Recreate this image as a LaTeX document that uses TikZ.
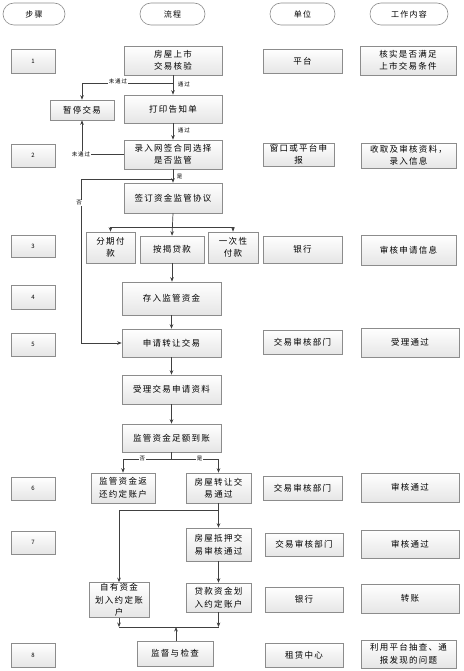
\documentclass[tikz,border=0pt]{standalone}
\usepackage{fontspec}
\setmainfont{Noto Sans CJK SC}[LetterSpace=15]
\usetikzlibrary{arrows.meta,shadows}
\begin{document}
\begin{tikzpicture}[x=1pt,y=-1pt,
  box/.style={draw=black!45, line width=0.6pt, top color=white, bottom color=black!10,
    drop shadow={shadow xshift=1pt,shadow yshift=-1pt,opacity=0.25},
    align=center, font=\fontsize{8.5}{12.5}\selectfont, inner sep=1pt},
  stepbox/.style={box, font=\fontsize{6}{7}\selectfont, minimum width=44pt},
  head/.style={draw=black!45, line width=0.6pt, rounded corners=11pt, fill=white,
    font=\fontsize{8}{10}\selectfont, minimum height=22pt},
  lab/.style={fill=white, inner sep=0.6pt, font=\fontsize{5.5}{6}\selectfont},
  conn/.style={draw=black!75, line width=0.7pt},
  arr/.style={conn, -{Stealth[length=4.5pt,width=3.6pt]}},
]
\useasboundingbox (0,0) rectangle (463,671);

% headers
\node[head, minimum width=62pt] (h1) at (34,14) {步骤};
\node[head, minimum width=65pt] (h2) at (172.5,14) {流程};
\node[head, minimum width=65pt] (h3) at (302.5,14) {单位};
\node[head, minimum width=78pt] (h4) at (409,14) {工作内容};

% steps
\node[stepbox, minimum height=24pt] (s1) at (33,61) {1};
\node[stepbox, minimum height=23pt] (s2) at (33,155.5) {2};
\node[stepbox, minimum height=22pt] (s3) at (33,246) {3};
\node[stepbox, minimum height=24pt] (s4) at (33,297) {4};
\node[stepbox, minimum height=23pt] (s5) at (33,344.5) {5};
\node[stepbox, minimum height=23pt] (s6) at (33,488.5) {6};
\node[stepbox, minimum height=23pt] (s7) at (33,542.5) {7};
\node[stepbox, minimum height=24pt] (s8) at (33,655) {8};

% process column
\node[box, minimum width=98pt, minimum height=29pt] (p1) at (173,60.5) {房屋上市\\交易核验};
\node[box, minimum width=98pt, minimum height=28pt] (p2) at (173,109) {打印告知单};
\node[box, minimum width=64pt, minimum height=20pt] (stop) at (82,110) {暂停交易};
\node[box, minimum width=98pt, minimum height=29pt] (p3) at (173,154.5) {录入网签合同选择\\是否监管};
\node[box, minimum width=98pt, minimum height=30pt] (p4) at (173,198) {签订资金监管协议};
\node[box, minimum width=49pt, minimum height=31pt] (pa) at (110.5,247.5) {分期付\\款};
\node[box, minimum width=64pt, minimum height=27pt] (pb) at (172,249.5) {按揭贷款};
\node[box, minimum width=50pt, minimum height=31pt] (pc) at (233,247.5) {一次性\\付款};
\node[box, minimum width=99pt, minimum height=33pt] (p5) at (171.5,298.5) {存入监管资金};
\node[box, minimum width=99pt, minimum height=28pt] (p6) at (171.5,343) {申请转让交易};
\node[box, minimum width=99pt, minimum height=29pt] (p7) at (171.5,389.5) {受理交易申请资料};
\node[box, minimum width=99pt, minimum height=28pt] (p8) at (171.5,438) {监管资金足额到账};
\node[box, minimum width=64pt, minimum height=30pt] (p9) at (123,488) {监管资金返\\还约定账户};
\node[box, minimum width=65pt, minimum height=30pt] (p10) at (218.5,488) {房屋转让交\\易通过};
\node[box, minimum width=65pt, minimum height=33pt] (p11) at (218.5,544.5) {房屋抵押交\\易审核通过};
\node[box, minimum width=60pt, minimum height=34pt] (p12) at (119,600) {自有资金\\划入约定账\\户};
\node[box, minimum width=65pt, minimum height=29pt] (p13) at (218.5,597.5) {贷款资金划\\入约定账户};
\node[box, minimum width=76pt, minimum height=25pt] (p14) at (175,653.5) {监督与检查};

% unit column
\node[box, minimum width=79pt, minimum height=24pt] (u1) at (302.5,61) {平台};
\node[box, minimum width=71pt, minimum height=23pt] (u2) at (298.5,154.5) {窗口或平台申\\报};
\node[box, minimum width=79pt, minimum height=27pt] (u3) at (302.5,249.5) {银行};
\node[box, minimum width=79pt, minimum height=24pt] (u5) at (302.5,342) {交易审核部门};
\node[box, minimum width=79pt, minimum height=24pt] (u6) at (302.5,488) {交易审核部门};
\node[box, minimum width=78pt, minimum height=23pt] (u7) at (304,544.5) {交易审核部门};
\node[box, minimum width=78pt, minimum height=25pt] (u8) at (304,599.5) {银行};
\node[box, minimum width=78pt, minimum height=24pt] (u9) at (304,655) {租赁中心};

% work column
\node[box, minimum width=96pt, minimum height=29pt] (w1) at (408,60.5) {核实是否满足\\上市交易条件};
\node[box, minimum width=95pt, minimum height=25pt] (w2) at (408.5,155.5) {收取及审核资料，\\录入信息};
\node[box, minimum width=95pt, minimum height=30pt] (w3) at (408.5,250) {审核申请信息};
\node[box, minimum width=98pt, minimum height=29pt] (w5) at (410,342.5) {受理通过};
\node[box, minimum width=98pt, minimum height=29pt] (w6) at (410,487.5) {审核通过};
\node[box, minimum width=98pt, minimum height=28pt] (w7) at (410,544) {审核通过};
\node[box, minimum width=98pt, minimum height=29pt] (w8) at (410,598.5) {转账};
\node[box, minimum width=95pt, minimum height=28pt] (w9) at (408.5,654) {利用平台抽查、通\\报发现的问题};

% junction coordinates
\coordinate (j1) at (173,83);
\coordinate (j2) at (173,179);
\coordinate (j3) at (173,227);
\coordinate (j4) at (171.5,459);
\coordinate (j5) at (218.5,510);
\coordinate (j6) at (176,627);

% connectors
\draw[arr] (p1) -- (p2) node[lab, pos=0.45, right=4pt] {通过};
\draw[arr] (j1) -| (stop.north);
\node[lab] at (118,81) {未通过};
\draw[arr] (p2) -- (p3) node[lab, pos=0.45, right=4pt] {通过};
\draw[arr] (p3.west) -| (stop.south);
\node[lab] at (81,154.5) {未通过};
\draw[arr] (p3) -- (p4) node[lab, pos=0.55, right=3pt] {是};
\draw[arr] (j2) -- (81,179) |- (p6.west);
\node[lab] at (79,203) {否};
\draw[arr] (p4.south) -- (pb.north);
\draw[conn] (pa.north |- j3) -- (pc.north |- j3);
\draw[arr] (pa.north |- j3) -- (pa.north);
\draw[arr] (pc.north |- j3) -- (pc.north);
\draw[arr] (pb.south) -- (pb.south |- p5.north);
\draw[arr] (p5.south -| p6.north) -- (p6.north);
\draw[arr] (p6) -- (p7);
\draw[arr] (p7) -- (p8);
\draw[conn] (p8.south) -- (j4);
\draw[arr] (j4) -| (p9.north) node[lab, pos=0.3] {否};
\draw[arr] (j4) -| (p10.north) node[lab, pos=0.3] {是};
\draw[arr] (p10) -- (p11);
\draw[arr] (j5) -| (p12.north);
\draw[arr] (p11) -- (p13);
\draw[arr] (p12.south) -- (p12.south |- j6);
\draw[arr] (p13.south) -- (p13.south |- j6);
\draw[conn] (p12.south |- j6) -- (p13.south |- j6);
\draw[arr] (p14.north -| j6) -- (j6);
\end{tikzpicture}
\end{document}
